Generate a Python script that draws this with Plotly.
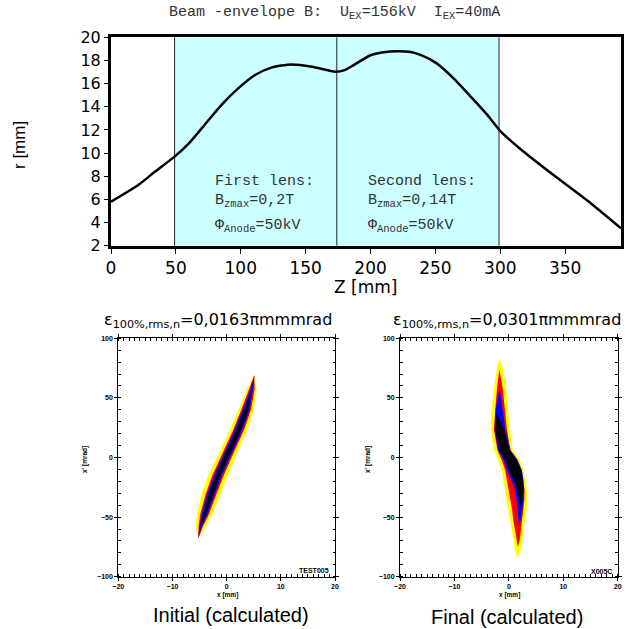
import plotly.graph_objects as go

# ---------------- data: beam envelope (top panel) ----------------
Z_MM = [0, 21, 34, 49, 60, 72, 85, 98, 111, 124, 139, 155, 173, 180, 187, 200, 210,
        220, 230, 238, 251, 264, 277, 290, 300, 315, 341, 367, 393]
R_MM = [5.8, 7.24, 8.4, 9.69, 10.84, 12.42, 14.15, 15.59, 16.74, 17.4, 17.66, 17.46,
        17.03, 17.17, 17.6, 18.45, 18.7, 18.8, 18.75, 18.5, 17.75, 16.45, 14.9, 13.3,
        11.9, 10.4, 8.1, 5.9, 3.5]
LENS_EDGES = [49, 174, 299]
Z_TICKS = [0, 50, 100, 150, 200, 250, 300, 350]
R_TICKS = [2, 4, 6, 8, 10, 12, 14, 16, 18, 20]

# ---------------- data: initial phase space (bottom left) ----------------
INIT_XP = [69, 57, 40, 23, 5, -15, -31, -48, -58, -68]
INIT_CENTER = [5.1, 4.65, 3.6, 2.2, 0.4, -1.6, -2.9, -4.1, -4.8, -5.25]
INIT_HW_YELLOW = [0, 0.9, 1.4, 1.6, 1.65, 1.8, 1.75, 1.4, 0.9, 0]
INIT_HW_RED = [0, 0.5, 0.9, 1.0, 1.0, 1.05, 1.0, 0.8, 0.4, 0]
INIT_HW_BLUE = [0, 0.25, 0.65, 0.72, 0.72, 0.72, 0.7, 0.55, 0.2, 0]
INIT_HW_BLACK = [0, 0, 0.35, 0.4, 0.4, 0.4, 0.38, 0.25, 0, 0]

# ---------------- data: final phase space (bottom right) ----------------
FINAL_XP = [83, 73, 57, 40, 23, 6, -2, -10.5, -19, -27, -36, -44, -52, -61, -69, -78, -85]
FINAL_YELLOW_L = [-1.75, -2.25, -2.75, -3.15, -3.35, -2.7, -1.95, -1.3, -1.0, -0.7,
                  -0.4, -0.1, 0.1, 0.5, 0.8, 1.15, 1.55]
FINAL_YELLOW_R = [-1.75, -1.0, -0.5, -0.1, 0.2, 0.7, 2.05, 2.65, 3.0, 3.3, 3.3, 3.3,
                  3.0, 2.65, 2.55, 2.15, 1.55]
FINAL_RED_XP = [74, 57, 40, 23, 6, -2, -10.5, -19, -27, -36, -44, -52, -61, -69, -75]
FINAL_RED_L = [-1.75, -2.2, -2.5, -2.75, -2.1, -1.3, -0.7, -0.35, -0.05, 0.25, 0.6,
               0.8, 1.1, 1.4, 1.65]
FINAL_RED_R = [-1.75, -1.1, -0.7, -0.35, 0.3, 1.65, 2.3, 2.6, 2.85, 2.85, 2.7, 2.4,
               2.2, 2.0, 1.65]
FINAL_BLUE_XP = [58, 40, 23, 6, -2, -10.5, -19, -27, -36, -44, -52, -58]
FINAL_BLUE_L = [-1.7, -2.45, -2.6, -1.95, -0.95, -0.35, 0.5, 1.15, 1.45, 1.6, 1.7, 1.85]
FINAL_BLUE_R = [-1.7, -1.15, -0.6, 0.3, 1.55, 2.4, 2.7, 2.85, 2.7, 2.5, 2.2, 1.85]
FINAL_BLACK_XP = [37, 23, 6, -2, -10.5, -19, -27, -36, -42]
FINAL_BLACK_L = [-2.2, -2.45, -1.65, -0.6, 0.0, 0.9, 1.55, 2.0, 2.2]
FINAL_BLACK_R = [-2.2, -0.8, 0.1, 1.35, 2.25, 2.55, 2.65, 2.5, 2.2]

LEVEL_COLORS = ["#ffff00", "#ff0000", "#0000ff", "#000000"]


def band(xp, left, right):
    xs = list(left) + list(right)[::-1] + [left[0]]
    ys = list(xp) + list(xp)[::-1] + [xp[0]]
    return xs, ys


fig = go.Figure()

# envelope curve
fig.add_trace(go.Scatter(x=Z_MM, y=R_MM, mode="lines",
                         line=dict(color="black", width=2.5, shape="spline", smoothing=0.6),
                         xaxis="x", yaxis="y", hoverinfo="skip"))

# initial distribution
for hw, col in zip([INIT_HW_YELLOW, INIT_HW_RED, INIT_HW_BLUE, INIT_HW_BLACK], LEVEL_COLORS):
    left = [c - h for c, h in zip(INIT_CENTER, hw)]
    right = [c + h for c, h in zip(INIT_CENTER, hw)]
    xs, ys = band(INIT_XP, left, right)
    fig.add_trace(go.Scatter(x=xs, y=ys, mode="lines", fill="toself", fillcolor=col,
                             line=dict(width=0, color=col), xaxis="x2", yaxis="y2",
                             hoverinfo="skip"))

# final distribution
for xp, l, r, col in [(FINAL_XP, FINAL_YELLOW_L, FINAL_YELLOW_R, LEVEL_COLORS[0]),
                      (FINAL_RED_XP, FINAL_RED_L, FINAL_RED_R, LEVEL_COLORS[1]),
                      (FINAL_BLUE_XP, FINAL_BLUE_L, FINAL_BLUE_R, LEVEL_COLORS[2]),
                      (FINAL_BLACK_XP, FINAL_BLACK_L, FINAL_BLACK_R, LEVEL_COLORS[3])]:
    xs, ys = band(xp, l, r)
    fig.add_trace(go.Scatter(x=xs, y=ys, mode="lines", fill="toself", fillcolor=col,
                             line=dict(width=0, color=col), xaxis="x3", yaxis="y3",
                             hoverinfo="skip"))

# lens region shading and lines
shapes = [dict(type="rect", xref="x", yref="y domain", x0=LENS_EDGES[0], x1=LENS_EDGES[-1],
               y0=0, y1=1, fillcolor="#ccffff", line=dict(width=0), layer="below")]
for e in LENS_EDGES:
    shapes.append(dict(type="line", xref="x", yref="y domain", x0=e, x1=e, y0=0, y1=1,
                       line=dict(color="#222222", width=1), layer="below"))

small_font = dict(family="Liberation Sans", size=7, color="black", weight="bold")


def phase_x(domain, anchor):
    return dict(domain=domain, anchor=anchor, range=[-20, 20], dtick=10, tick0=0,
                showline=True, linecolor="black", linewidth=1, mirror="allticks",
                ticks="outside", ticklen=3, tickcolor="black", tickfont=small_font,
                minor=dict(dtick=1, ticks="inside", ticklen=2.5, tickcolor="black"),
                showgrid=False, zeroline=False, automargin=False)


def phase_y(domain, anchor):
    return dict(domain=domain, anchor=anchor, range=[-100, 100], dtick=50, tick0=0,
                showline=True, linecolor="black", linewidth=1, mirror="allticks",
                ticks="outside", ticklen=3, tickcolor="black", tickfont=small_font,
                minor=dict(dtick=10, ticks="inside", ticklen=2.5, tickcolor="black"),
                showgrid=False, zeroline=False, automargin=False)


W = 629.0


def px(x, y):
    return x / W, 1 - y / W


ann = []


def add_text(text, x, y, size, family, xanchor="center", angle=0, color="black", weight="normal"):
    ax, ay = px(x, y)
    ann.append(dict(text=text, x=ax, y=ay, xref="paper", yref="paper", showarrow=False,
                    xanchor=xanchor, yanchor="middle", textangle=angle,
                    font=dict(size=size, family=family, color=color, weight=weight)))


mono = "Liberation Mono"
add_text("Beam -envelope B:  U<sub>EX</sub>=156kV  I<sub>EX</sub>=40mA", 334, 13, 15, mono, color="#333")
add_text("r [mm]", 20, 145, 17, "Liberation Sans", angle=-90)
add_text("Z [mm]", 365, 287, 17, "DejaVu Sans")
add_text("First lens:", 213, 181, 15, mono, xanchor="left", color="#333")
add_text("B<sub>zmax</sub>=0,2T", 213, 201, 15, mono, xanchor="left", color="#333")
add_text("Φ<sub>Anode</sub>=50kV", 213, 226, 15, mono, xanchor="left", color="#333")
add_text("Second lens:", 366, 181, 15, mono, xanchor="left", color="#333")
add_text("B<sub>zmax</sub>=0,14T", 366, 201, 15, mono, xanchor="left", color="#333")
add_text("Φ<sub>Anode</sub>=50kV", 366, 226, 15, mono, xanchor="left", color="#333")
add_text("ε<sub>100%,rms,n</sub>=0,0163πmmmrad", 218, 320, 16, "DejaVu Sans")
add_text("ε<sub>100%,rms,n</sub>=0,0301πmmmrad", 507, 320, 16, "DejaVu Sans")
add_text("Initial (calculated)", 231, 615, 20, "Liberation Sans")
add_text("Final (calculated)", 507, 617, 20, "Liberation Sans")
add_text("x [mm]", 227, 595, 6.5, "Liberation Sans", weight="bold")
add_text("x [mm]", 509, 595, 6.5, "Liberation Sans", weight="bold")
add_text("x' [mrad]", 85, 460, 6.5, "Liberation Sans", angle=-90, weight="bold")
add_text("x' [mrad]", 368, 460, 6.5, "Liberation Sans", angle=-90, weight="bold")
add_text("TEST005", 331, 570, 7, "Liberation Sans", xanchor="right", weight="bold")
add_text("X005C", 614, 571, 7, "Liberation Sans", xanchor="right", weight="bold")

fig.update_layout(
    width=629, height=629, autosize=False,
    margin=dict(l=0, r=0, t=0, b=0, autoexpand=False),
    paper_bgcolor="white", plot_bgcolor="white",
    showlegend=False,
    shapes=shapes,
    annotations=ann,
    xaxis=dict(domain=[111 / W, 621 / W], anchor="y", range=[0, 393], tickvals=Z_TICKS,
               showline=True, linecolor="black", linewidth=3, mirror=True,
               ticks="outside", ticklen=5, tickcolor="black",
               tickfont=dict(family="DejaVu Sans", size=17, color="black"),
               showgrid=False, zeroline=False, automargin=False),
    yaxis=dict(domain=[1 - 245.7 / W, 1 - 37.3 / W], anchor="x", range=[2, 20], tickvals=R_TICKS,
               showline=True, linecolor="black", linewidth=3, mirror=True,
               ticks="outside", ticklen=4, tickcolor="black",
               tickfont=dict(family="DejaVu Sans", size=16, color="black"),
               showgrid=False, zeroline=False, automargin=False),
    xaxis2=phase_x([118.3 / W, 335 / W], "y2"),
    yaxis2=phase_y([1 - 576.7 / W, 1 - 338.3 / W], "x2"),
    xaxis3=phase_x([400 / W, 617.7 / W], "y3"),
    yaxis3=phase_y([1 - 576.7 / W, 1 - 338.3 / W], "x3"),
)

fig.write_html("out.html", config={"displayModeBar": False},
               post_script="document.body.style.margin='0px';document.body.style.overflow='hidden';")
